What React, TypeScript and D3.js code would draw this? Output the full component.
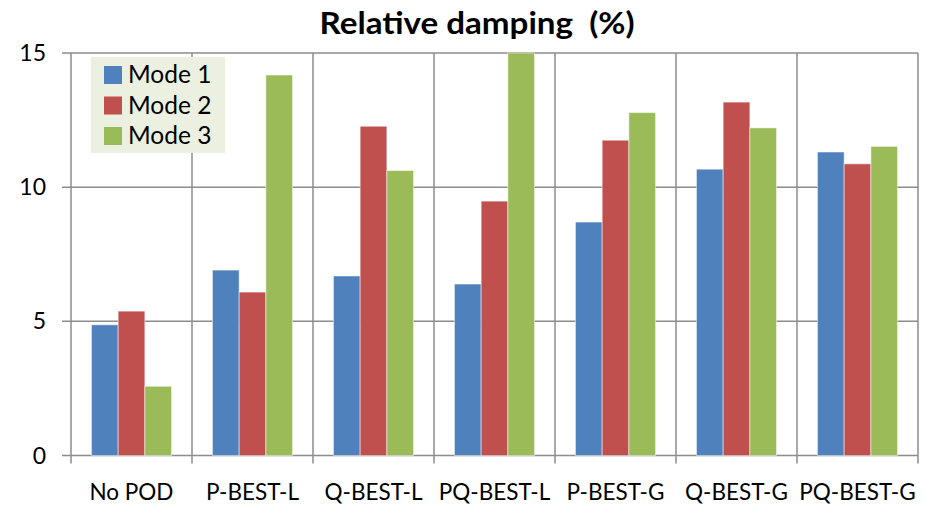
import React from "react";
import * as d3 from "d3";

const categories = ["No POD", "P-BEST-L", "Q-BEST-L", "PQ-BEST-L", "P-BEST-G", "Q-BEST-G", "PQ-BEST-G"];
const seriesNames = ["Mode 1", "Mode 2", "Mode 3"];
const mode1 = [4.87, 6.91, 6.69, 6.39, 8.7, 10.67, 11.31];
const mode2 = [5.38, 6.09, 12.27, 9.48, 11.75, 13.17, 10.87];
const mode3 = [2.58, 14.18, 10.62, 15.0, 12.78, 12.21, 11.52];
const yTicks = [0, 5, 10, 15];
const colors = ["#4F81BD", "#C0504D", "#9BBB59"];

const W = 925;
const H = 505;
const left = 71;
const right = 918;
const top = 53;
const bottom = 455.5;
const font = "Lato, 'Open Sans', sans-serif";

export default function App() {
  const series = [mode1, mode2, mode3];
  const x = d3.scaleBand<string>().domain(categories).range([left, right]).paddingInner(0).paddingOuter(0);
  const y = d3.scaleLinear().domain([0, 15]).range([bottom, top]);
  const bw = x.bandwidth();
  const groupW = bw * 0.662;
  const inner = d3.scaleBand<string>().domain(seriesNames).range([0, groupW]);
  const gridColor = "#8C8C8C";

  return (
    <svg width={W} height={H} style={{ position: "absolute", left: 0, top: 0, background: "#fff" }}>
      <text x={477} y={34} textAnchor="middle" fontFamily={font} fontWeight="bold" fontSize={31} textLength={315} lengthAdjust="spacingAndGlyphs" style={{ whiteSpace: "pre" }}>
        {"Relative damping  (%)"}
      </text>
      {/* horizontal gridlines */}
      {yTicks.map((t) => (
        <line key={"h" + t} x1={left - 9} x2={right} y1={y(t)} y2={y(t)} stroke={gridColor} strokeWidth={1.5} />
      ))}
      {/* vertical gridlines */}
      {categories.map((c, i) => (
        <line key={"v" + i} x1={(x(c) as number) + bw} x2={(x(c) as number) + bw} y1={top} y2={bottom + 8} stroke={gridColor} strokeWidth={1.5} />
      ))}
      <line x1={left} x2={left} y1={top} y2={bottom + 8} stroke={gridColor} strokeWidth={1.5} />
      {/* bars */}
      {series.map((vals, si) =>
        vals.map((v, ci) => {
          const x0 = (x(categories[ci]) as number) + (bw - groupW) / 2 + (inner(seriesNames[si]) as number);
          const yv = y(Math.min(v, 15));
          return (
            <rect
              key={si + "-" + ci}
              x={x0}
              y={yv}
              width={inner.bandwidth()}
              height={bottom - yv}
              fill={colors[si]}
              stroke="#ffffff"
              strokeOpacity={0.5}
              strokeWidth={1}
            />
          );
        })
      )}
      {/* y tick labels */}
      {yTicks.map((t) => (
        <text key={"yl" + t} x={46} y={y(t) + 8} textAnchor="end" fontFamily={font} fontSize={23}>
          {t}
        </text>
      ))}
      {/* x labels */}
      {categories.map((c) => (
        <text key={"xl" + c} x={(x(c) as number) + bw / 2} y={500} textAnchor="middle" fontFamily={font} fontSize={22.5}>
          {c}
        </text>
      ))}
      {/* legend */}
      <rect x={91} y={57} width={134} height={96} fill="#ECF0E1" />
      {seriesNames.map((s, i) => (
        <g key={"lg" + s}>
          <rect x={104} y={66 + i * 30.5} width={18} height={18} fill={colors[i]} />
          <text x={128} y={83 + i * 30.5} fontFamily={font} fontSize={24.5}>
            {s}
          </text>
        </g>
      ))}
    </svg>
  );
}
